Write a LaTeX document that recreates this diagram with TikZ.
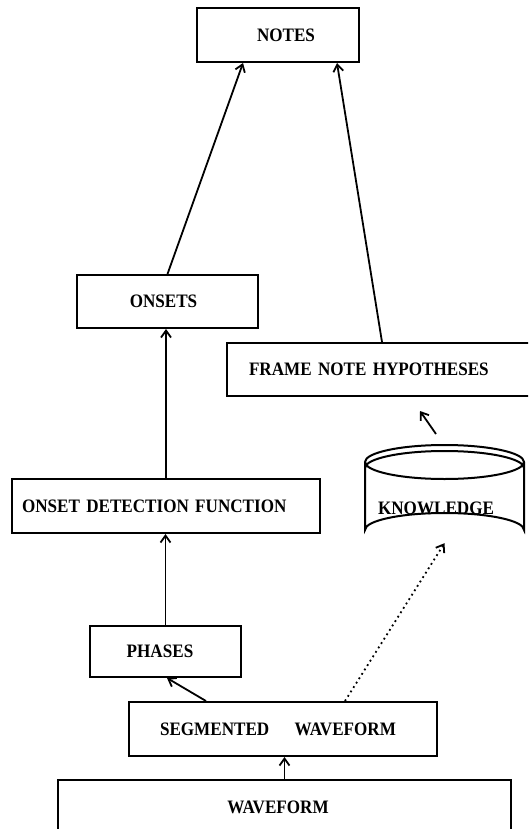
\documentclass[tikz,border=0pt]{standalone}
\usepackage{fontspec}
\setmainfont{Liberation Serif}[FakeStretch=0.9]
\usetikzlibrary{arrows.meta}

\begin{document}
\begin{tikzpicture}[x=1pt,y=-1pt,
	boxtext/.style={font=\fontsize{19}{22}\selectfont\bfseries},
	blockbox/.style={shape=rectangle,draw=black,line width=2pt,inner sep=0pt,boxtext},
	flow/.style={-{Straight Barb[length=7pt,width=10pt,line width=1.8pt]},line width=1.8pt}]
	\useasboundingbox (0,0) rectangle (528,829);
	\clip (0,0) rectangle (528,829);

	\node[blockbox,minimum width=162pt,minimum height=54pt] (notes) at (278, 35)     {\hspace*{16pt}NOTES};
	\node[blockbox,minimum width=181pt,minimum height=53pt] (onsets) at (167.5, 301.5) {ONSETS\hspace*{8pt}};
	\node[blockbox,minimum height=53pt,text width=274pt,inner xsep=22pt,align=left] (frames) at (386, 369.5) {FRAME NOTE HYPOTHESES};
	\node[blockbox,minimum height=54pt,text width=288pt,inner xsep=10pt,align=left] (odf) at (166, 506) {ONSET DETECTION FUNCTION};
	\node[blockbox,minimum width=151pt,minimum height=51pt] (phases) at (165.5, 651.5) {PHASES\hspace*{11pt}};
	\node[blockbox,minimum height=54pt,text width=246pt,inner xsep=31pt,align=left] (segwave) at (283, 729) {SEGMENTED\hspace{1em} WAVEFORM};
	\node[blockbox,minimum width=453pt,minimum height=54pt] (wave) at (284.5, 807) {WAVEFORM\hspace*{13pt}};

	% knowledge store
	\node[minimum width=159pt,minimum height=102pt,inner sep=0pt,
		label={[boxtext,xshift=-8.5pt,yshift=-12pt]center:KNOWLEDGE}] (know) at (444.5, 496) {};
	\draw[line width=2pt] (know.center) ++(0,-34) ellipse [x radius=79.5, y radius=17];
	\draw[line width=2pt] (365, 462) -- (365, 530) arc [start angle=180, end angle=360, x radius=79.5, y radius=17] -- (524, 462);
	\draw[line width=2pt] (365, 468) arc [start angle=180, end angle=360, x radius=79.5, y radius=17];
	\coordinate (kfrom) at (436, 434);
	\coordinate (kto) at (420, 411);

	\path[flow] (onsets.north) edge ([xshift=-35pt]notes.south);
	\path[flow] ([xshift=-4pt]frames.north) edge ([xshift=59pt]notes.south);
	\path[flow] (odf.north) edge (odf.north |- onsets.south);
	\path[flow] (phases.north) edge (phases.north |- odf.south);
	\path[flow] ([xshift=-77pt]segwave.north) edge ([xshift=1.5pt]phases.south);
	\path[flow,dash pattern=on 1.8pt off 3.4pt] ([xshift=62pt]segwave.north) edge ([yshift=4pt]know.south);
	\path[flow] (wave.north) edge (wave.north |- segwave.south);
	\path[flow] (kfrom) edge (kto);
\end{tikzpicture}
\end{document}
